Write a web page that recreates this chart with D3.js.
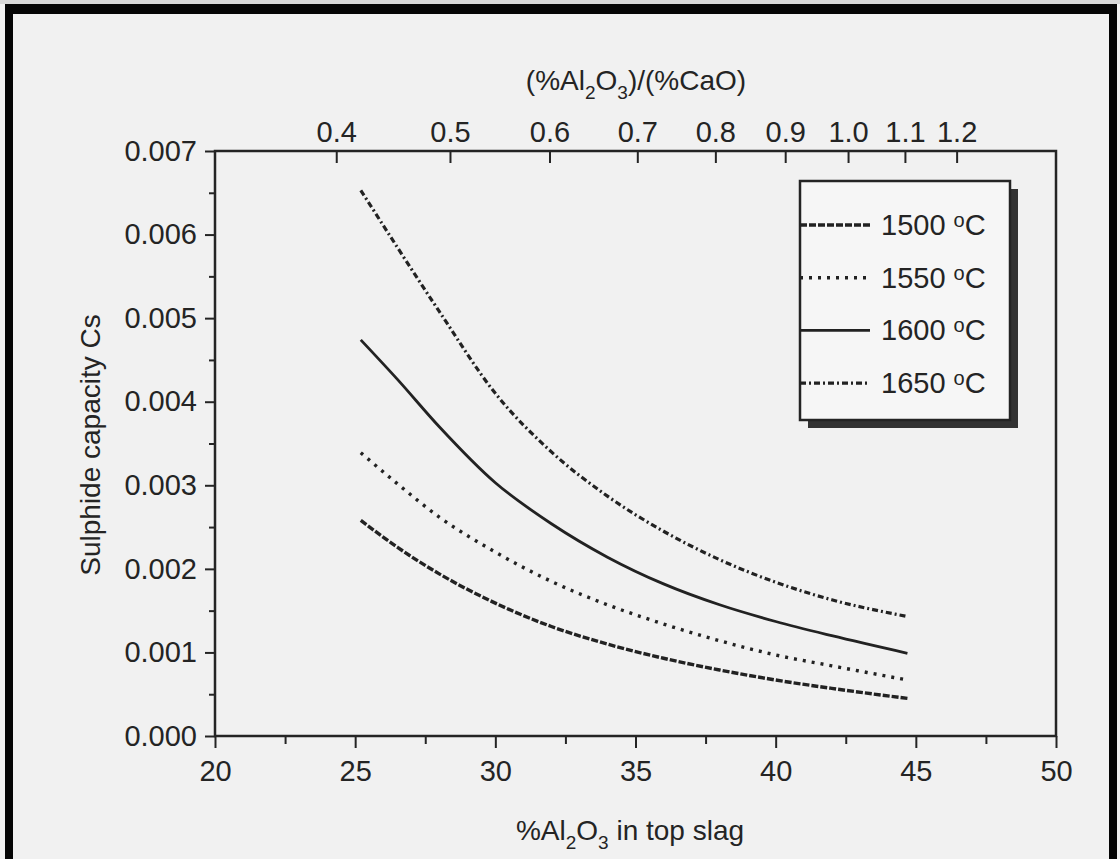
<!doctype html>
<html>
<head>
<meta charset="utf-8">
<title>Sulphide capacity vs %Al2O3 in top slag</title>
<style>
  body { margin: 0; background: #f1f1f1; }
  svg text { font-family: "Liberation Sans", Arial, sans-serif; fill: #242424; }
  .axis line { stroke: #242424; stroke-width: 2; }
  .axis path { display: none; }
  .axis text { font-size: 29px; }
</style>
</head>
<body>
<svg id="chart" width="1120" height="859"></svg>
<script src="https://d3js.org/d3.v7.min.js"></script>
<script>
   // values
   var AL2O3 = [25.2, 26.5, 28, 30, 32, 34, 36, 38, 40, 42, 44.7];
   var CS_1500 = [0.00258, 0.00226, 0.00194, 0.00159, 0.00131, 0.00110, 0.00093, 0.00079, 0.00067, 0.00057, 0.00045];
   var CS_1550 = [0.00339, 0.00302, 0.00262, 0.00220, 0.00185, 0.00157, 0.00134, 0.00114, 0.00097, 0.00084, 0.00067];
   var CS_1600 = [0.00474, 0.00427, 0.00370, 0.00303, 0.00254, 0.00214, 0.00182, 0.00157, 0.00137, 0.00120, 0.00099];
   var CS_1650 = [0.00653, 0.00585, 0.00508, 0.00410, 0.00340, 0.00287, 0.00245, 0.00211, 0.00184, 0.00163, 0.00143];
   var SERIES_NAMES = ["1500", "1550", "1600", "1650"];
   var X_TICKS = [20, 25, 30, 35, 40, 45, 50];
   var Y_TICKS = [0, 0.001, 0.002, 0.003, 0.004, 0.005, 0.006, 0.007];
   var RATIO_TICKS = [0.4, 0.5, 0.6, 0.7, 0.8, 0.9, 1.0, 1.1, 1.2];
   var AL_PLUS_CAO = 85.2;   // %Al2O3 + %CaO used by the top axis

   var series = [
      { name: SERIES_NAMES[0], values: CS_1500, dash: "7,2",     width: 3.4 },
      { name: SERIES_NAMES[1], values: CS_1550, dash: "3,6",     width: 3.4 },
      { name: SERIES_NAMES[2], values: CS_1600, dash: null,      width: 2.8 },
      { name: SERIES_NAMES[3], values: CS_1650, dash: "6,3,2,3", width: 3.2 }
   ];

   var svg = d3.select("#chart");
   var plotLeft = 215, plotRight = 1056, plotTop = 151, plotBottom = 736;

   var x = d3.scaleLinear().domain([20, 50]).range([plotLeft, plotRight]);
   var y = d3.scaleLinear().domain([0, 0.007]).range([plotBottom, plotTop]);

   svg.append("rect").attr("width", 1120).attr("height", 859).attr("fill", "#f1f1f1");

   // scan frame
   svg.append("rect").attr("x", 0).attr("y", 0).attr("width", 1120).attr("height", 4).attr("fill", "#d8d8d8");
   svg.append("rect").attr("x", 5).attr("y", 4).attr("width", 1112).attr("height", 10).attr("fill", "#050505");
   svg.append("rect").attr("x", 5).attr("y", 4).attr("width", 8).attr("height", 855).attr("fill", "#050505");
   svg.append("rect").attr("x", 1109).attr("y", 4).attr("width", 8).attr("height", 855).attr("fill", "#050505");

   // bottom axis
   svg.append("g").attr("class", "axis")
      .attr("transform", "translate(0," + plotBottom + ")")
      .call(d3.axisBottom(x).tickValues(d3.range(22.5, 50, 5)).tickSize(8).tickFormat(""));
   svg.append("g").attr("class", "axis")
      .attr("transform", "translate(0," + plotBottom + ")")
      .call(d3.axisBottom(x).tickValues(X_TICKS).tickSize(12).tickPadding(12).tickFormat(d3.format("d")));

   // left axis
   svg.append("g").attr("class", "axis")
      .attr("transform", "translate(" + plotLeft + ",0)")
      .call(d3.axisLeft(y).tickValues(d3.range(0.0005, 0.007, 0.001)).tickSize(6).tickFormat(""));
   svg.append("g").attr("class", "axis")
      .attr("transform", "translate(" + plotLeft + ",0)")
      .call(d3.axisLeft(y).tickValues(Y_TICKS).tickSize(10).tickPadding(8).tickFormat(d3.format(".3f")));

   // top axis: (%Al2O3)/(%CaO)
   function ratioToAl(r) { return AL_PLUS_CAO * r / (1 + r); }
   var topAxis = svg.append("g").attr("class", "axis");
   topAxis.selectAll("line").data(RATIO_TICKS).join("line")
      .attr("x1", function(r) { return x(ratioToAl(r)); })
      .attr("x2", function(r) { return x(ratioToAl(r)); })
      .attr("y1", plotTop).attr("y2", plotTop + 12);
   topAxis.selectAll("text").data(RATIO_TICKS).join("text")
      .attr("x", function(r) { return x(ratioToAl(r)); })
      .attr("y", plotTop - 9)
      .attr("text-anchor", "middle")
      .text(function(r) { return d3.format(".1f")(r); });

   // frame of the plot
   svg.append("rect")
      .attr("x", plotLeft).attr("y", plotTop)
      .attr("width", plotRight - plotLeft).attr("height", plotBottom - plotTop)
      .attr("fill", "none").attr("stroke", "#242424").attr("stroke-width", 2.5);

   // curves
   var line = d3.line()
      .x(function(d) { return x(d[0]); })
      .y(function(d) { return y(d[1]); })
      .curve(d3.curveMonotoneX);

   svg.append("g").selectAll("path")
      .data(series)
      .join("path")
         .attr("d", function(s) { return line(AL2O3.map(function(a, i) { return [a, s.values[i]]; })); })
         .attr("fill", "none")
         .attr("stroke", "#222")
         .attr("stroke-width", function(s) { return s.width; })
         .attr("stroke-dasharray", function(s) { return s.dash; });

   // legend
   var lg = svg.append("g").attr("transform", "translate(800,181)");
   lg.append("rect").attr("x", 8).attr("y", 8).attr("width", 210).attr("height", 239).attr("fill", "#333");
   lg.append("rect").attr("x", 0).attr("y", 0).attr("width", 210).attr("height", 239)
      .attr("fill", "#f6f6f6").attr("stroke", "#242424").attr("stroke-width", 2.5);
   var rows = lg.selectAll("g.row").data(series).join("g")
      .attr("class", "row")
      .attr("transform", function(s, i) { return "translate(0," + (44 + i * 52.7) + ")"; });
   rows.append("line")
      .attr("x1", 0).attr("x2", 70).attr("y1", 0).attr("y2", 0)
      .attr("stroke", "#222")
      .attr("stroke-width", function(s) { return s.width; })
      .attr("stroke-dasharray", function(s) { return s.dash; });
   var lt = rows.append("text").attr("x", 81).attr("y", 10).style("font-size", "29px");
   lt.append("tspan").text(function(s) { return s.name + " "; });
   lt.append("tspan").attr("dy", -8).style("font-size", "20px").text("o");
   lt.append("tspan").attr("dy", 8).text("C");

   // axis titles
   var tt = svg.append("text").attr("x", 636).attr("y", 90).attr("text-anchor", "middle").style("font-size", "28px");
   tt.append("tspan").text("(%Al");
   tt.append("tspan").attr("dy", 9).style("font-size", "19px").text("2");
   tt.append("tspan").attr("dy", -9).text("O");
   tt.append("tspan").attr("dy", 9).style("font-size", "19px").text("3");
   tt.append("tspan").attr("dy", -9).text(")/(%CaO)");

   var xt = svg.append("text").attr("x", 630).attr("y", 840).attr("text-anchor", "middle").style("font-size", "28px");
   xt.append("tspan").text("%Al");
   xt.append("tspan").attr("dy", 9).style("font-size", "19px").text("2");
   xt.append("tspan").attr("dy", -9).text("O");
   xt.append("tspan").attr("dy", 9).style("font-size", "19px").text("3");
   xt.append("tspan").attr("dy", -9).text(" in top slag");

   svg.append("text")
      .attr("transform", "translate(100,445) rotate(-90)")
      .attr("text-anchor", "middle")
      .style("font-size", "28px")
      .text("Sulphide capacity Cs");
</script>
</body>
</html>
